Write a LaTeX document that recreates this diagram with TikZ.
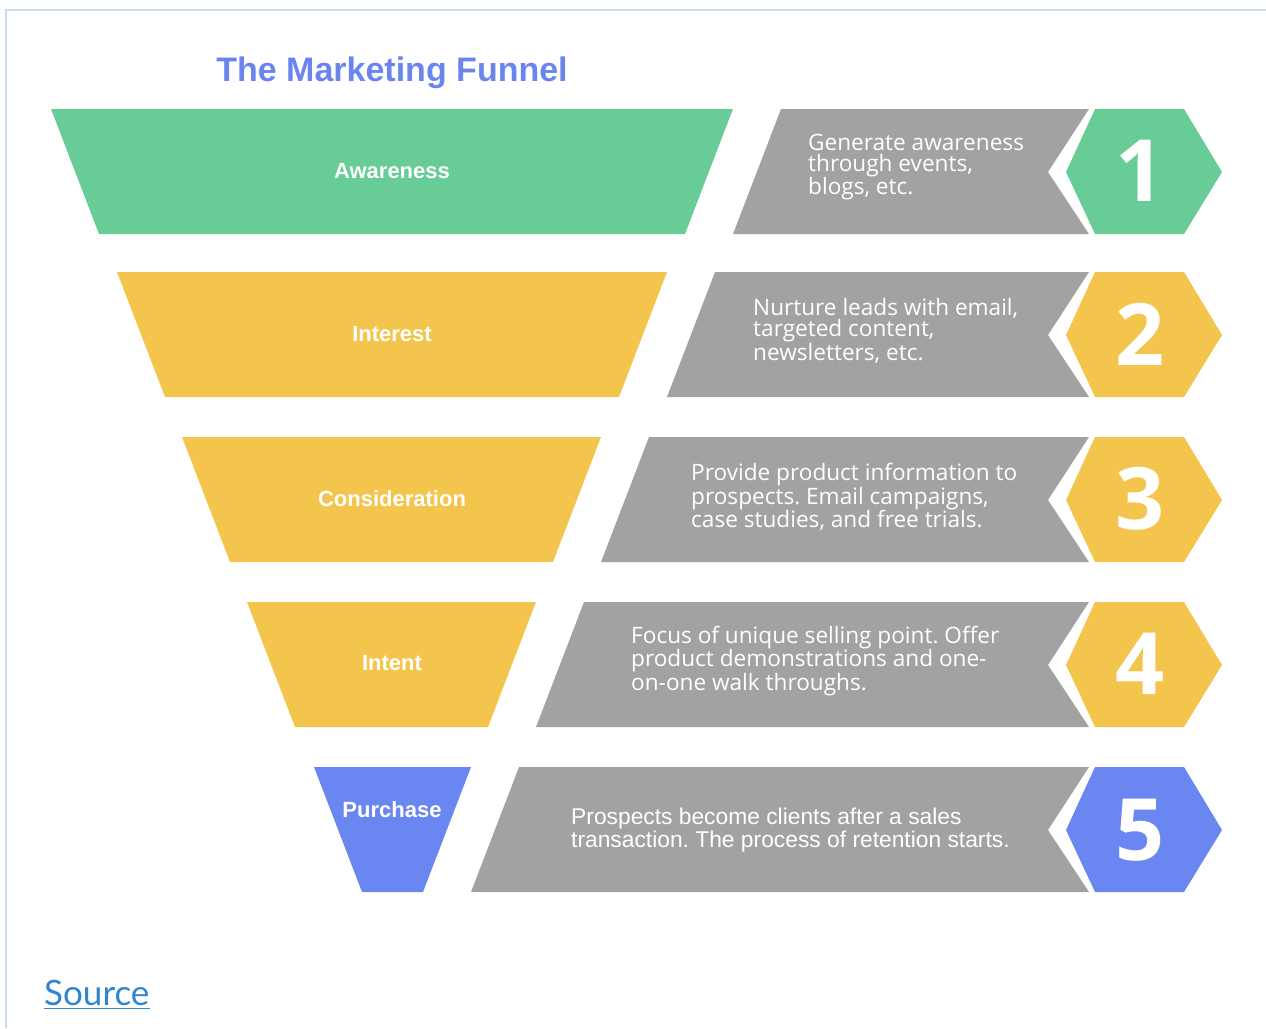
\documentclass[tikz,border=0pt]{standalone}
\usepackage{fontspec}
\setmainfont{Open Sans}
\newfontfamily\headfont{Liberation Sans}
\newfontfamily\linkfont{Lato}
\definecolor{stagegreen}{HTML}{68CC97}
\definecolor{stageyellow}{HTML}{F4C54C}
\definecolor{stageblue}{HTML}{6A86F0}
\definecolor{stagegray}{HTML}{A2A2A2}
\definecolor{titleblue}{HTML}{6A86EE}
\definecolor{linkblue}{HTML}{2F86CF}
\definecolor{framecol}{HTML}{C8DCF0}
\frenchspacing
\begin{document}
\begin{tikzpicture}[x = 1pt, y = -1pt,
		stagelabel/.style = {text = white, inner sep = 0, font = \headfont\bfseries\fontsize{22}{24}\selectfont},
		desc/.style = {text = white, inner sep = 0, anchor = west, align = left, font = \fontsize{22.6}{20.8}\selectfont},
		digit/.style = {text = white, inner sep = 0, font = \bfseries\fontsize{86}{90}\selectfont}]
	\useasboundingbox (0, 0) rectangle (1266, 1028);
	\draw[framecol, line width = 1.2] (6, 1028) -- (6, 10) -- (1266, 10);
	\node[text = titleblue, font = \headfont\bfseries\fontsize{34}{40}\selectfont] (title) at (392, 73) {The Marketing Funnel};
	% row 1
	\fill[stagegreen] (51, 109) -- (733, 109) -- (685, 234) -- (99, 234) -- cycle;
		\node[stagelabel] (awareness) at (392, 171) {Awareness};
	\fill[stagegray] (781, 109) -- (1089, 109) -- (1048, 172) -- (1089, 234) -- (733, 234) -- cycle;
		\node[desc] (desc1) at (808, 167) {Generate awareness\\through events,\\blogs, etc.};
	\fill[stagegreen] (1066, 172) -- (1095, 109) -- (1184, 109) -- (1222, 172) -- (1184, 234) -- (1095, 234) -- cycle;
		\node[digit] (num1) at (1140, 171) {1};
	% row 2
	\fill[stageyellow] (117, 272) -- (667, 272) -- (619, 397) -- (165, 397) -- cycle;
		\node[stagelabel] (interest) at (392, 334) {Interest};
	\fill[stagegray] (715, 272) -- (1089, 272) -- (1048, 335) -- (1089, 397) -- (667, 397) -- cycle;
		\node[desc] (desc2) at (753, 331) {Nurture leads with email,\\targeted content,\\newsletters, etc.};
	\fill[stageyellow] (1066, 335) -- (1095, 272) -- (1184, 272) -- (1222, 335) -- (1184, 397) -- (1095, 397) -- cycle;
		\node[digit] (num2) at (1140, 334) {2};
	% row 3
	\fill[stageyellow] (182, 437) -- (601, 437) -- (553, 562) -- (230, 562) -- cycle;
		\node[stagelabel] (consideration) at (392, 499) {Consideration};
	\fill[stagegray] (649, 437) -- (1089, 437) -- (1048, 500) -- (1089, 562) -- (601, 562) -- cycle;
		\node[desc] (desc3) at (691, 497) {Provide product information to\\prospects. Email campaigns,\\case studies, and free trials.};
	\fill[stageyellow] (1066, 500) -- (1095, 437) -- (1184, 437) -- (1222, 500) -- (1184, 562) -- (1095, 562) -- cycle;
		\node[digit] (num3) at (1140, 499) {3};
	% row 4
	\fill[stageyellow] (247, 602) -- (536, 602) -- (488, 727) -- (295, 727) -- cycle;
		\node[stagelabel] (intent) at (392, 663) {Intent};
	\fill[stagegray] (584, 602) -- (1089, 602) -- (1048, 665) -- (1089, 727) -- (536, 727) -- cycle;
		\node[desc] (desc4) at (631, 661) {Focus of unique selling point. Offer\\product demonstrations and one-\\on-one walk throughs.};
	\fill[stageyellow] (1066, 665) -- (1095, 602) -- (1184, 602) -- (1222, 665) -- (1184, 727) -- (1095, 727) -- cycle;
		\node[digit] (num4) at (1140, 664) {4};
	% row 5
	\fill[stageblue] (314, 767) -- (471, 767) -- (423, 892) -- (362, 892) -- cycle;
		\node[stagelabel] (purchase) at (392, 810) {Purchase};
	\fill[stagegray] (519, 767) -- (1089, 767) -- (1048, 830) -- (1089, 892) -- (471, 892) -- cycle;
		\node[desc, font = \headfont\fontsize{22.8}{21}\selectfont] (desc5) at (571, 830) {Prospects become clients after a sales\\transaction. The process of retention starts.};
	\fill[stageblue] (1066, 830) -- (1095, 767) -- (1184, 767) -- (1222, 830) -- (1184, 892) -- (1095, 892) -- cycle;
		\node[digit] (num5) at (1140, 830) {5};
	% link
	\node[anchor = base west, inner sep = 0, text = linkblue, font = \linkfont\fontsize{35}{40}\selectfont] (source) at (44, 1005) {Source};
	\draw[linkblue, line width = 1.6] ([yshift = -3.5] source.base west) -- ([yshift = -3.5] source.base east);
\end{tikzpicture}
\end{document}
